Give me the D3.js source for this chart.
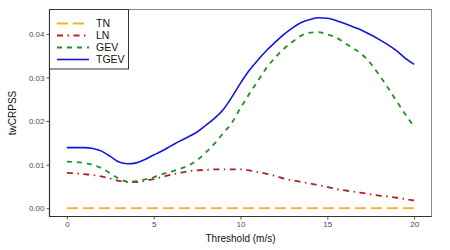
<!DOCTYPE html>
<html>
<head>
<meta charset="utf-8">
<script src="https://cdn.jsdelivr.net/npm/d3@7"></script>
<style>
  body { margin: 0; background: #fff; }
  svg { font-family: "Liberation Sans", Arial, sans-serif; }
</style>
</head>
<body>
<svg id="chart" width="450" height="250"></svg>
<script>
// thresholds (m/s)
const thresholds = d3.range(0, 20.01, 0.5);

// twCRPSS per model
const tn = thresholds.map(() => 0);
const ln = [0.0081, 0.0080, 0.0078, 0.0076, 0.0073, 0.0068, 0.0063, 0.0060, 0.0060, 0.0063,
  0.0067, 0.0072, 0.0077, 0.0081, 0.0085, 0.0087, 0.0088, 0.0089, 0.0089, 0.0089,
  0.0089, 0.0087, 0.0083, 0.0079, 0.0074, 0.0068, 0.0064, 0.0060, 0.0057, 0.0053,
  0.0049, 0.0044, 0.0041, 0.0038, 0.0035, 0.0032, 0.0029, 0.0027, 0.0024, 0.0021, 0.0018];
const gev = [0.0107, 0.0106, 0.0104, 0.0099, 0.0092, 0.0080, 0.0068, 0.0061, 0.0062, 0.0066,
  0.0071, 0.0078, 0.0084, 0.0090, 0.0098, 0.0110, 0.0128, 0.0148, 0.0172, 0.0196,
  0.0230, 0.0262, 0.0292, 0.0322, 0.0346, 0.0366, 0.0382, 0.0396, 0.0403, 0.0404,
  0.0399, 0.0392, 0.0379, 0.0367, 0.0353, 0.0332, 0.0305, 0.0276, 0.0245, 0.0215, 0.0187];
const tgev = [0.0139, 0.0139, 0.0139, 0.0137, 0.0131, 0.0119, 0.0106, 0.0102, 0.0104, 0.0112,
  0.0122, 0.0132, 0.0143, 0.0154, 0.0164, 0.0175, 0.0190, 0.0206, 0.0226, 0.0255,
  0.0287, 0.0316, 0.0340, 0.0362, 0.0381, 0.0399, 0.0414, 0.0426, 0.0433, 0.0437,
  0.0436, 0.0431, 0.0424, 0.0416, 0.0408, 0.0398, 0.0387, 0.0375, 0.0361, 0.0344, 0.0330];

const xTicks = [0, 5, 10, 15, 20];
const yTicks = [0, 0.01, 0.02, 0.03, 0.04];

const series = [
  { name: "TN", values: tn, color: "#f2b41a", dash: "11,5", width: 1.8 },
  { name: "LN", values: ln, color: "#b22222", dash: "6,4.5,1.5,4.5", width: 1.8 },
  { name: "GEV", values: gev, color: "#1a961a", dash: "5,5", width: 1.8 },
  { name: "TGEV", values: tgev, color: "#1414e0", dash: null, width: 1.6 },
];

const svg = d3.select("#chart");
const pLeft = 49.5, pRight = 431.5, pTop = 9.5, pBottom = 216.5;

const x = d3.scaleLinear().domain([-1, 21]).range([pLeft, pRight]);
const y = d3.scaleLinear().domain([-0.0019, 0.0456]).range([pBottom, pTop]);

// panel border (top/right lighter)
svg.append("rect")
  .attr("x", pLeft).attr("y", pTop)
  .attr("width", pRight - pLeft).attr("height", pBottom - pTop)
  .attr("fill", "none").attr("stroke", "#8a8a8a").attr("stroke-width", 1);

// axes
const xAxis = svg.append("g")
  .attr("transform", `translate(0,${pBottom})`)
  .call(d3.axisBottom(x).tickValues(xTicks).tickFormat(d3.format("d")).tickSize(3).tickPadding(2));
const yAxis = svg.append("g")
  .attr("transform", `translate(${pLeft},0)`)
  .call(d3.axisLeft(y).tickValues(yTicks).tickFormat(d3.format(".2f")).tickSize(3).tickPadding(2));

[xAxis, yAxis].forEach(g => {
  g.select(".domain").remove();
  g.selectAll(".tick line").attr("stroke", "#555");
  g.selectAll(".tick text").attr("fill", "#4d4d4d").style("font-size", "8px");
});

// dark left / bottom axis lines
svg.append("line").attr("x1", pLeft).attr("x2", pLeft).attr("y1", pTop).attr("y2", pBottom + 0.5)
  .attr("stroke", "#333").attr("stroke-width", 1.2);
svg.append("line").attr("x1", pLeft).attr("x2", pRight).attr("y1", pBottom).attr("y2", pBottom)
  .attr("stroke", "#333").attr("stroke-width", 1.2);

// lines
const line = d3.line()
  .x((d, i) => x(thresholds[i]))
  .y(d => y(d))
  .curve(d3.curveMonotoneX);

svg.append("g").selectAll("path")
  .data(series)
  .join("path")
  .attr("d", s => line(s.values))
  .attr("fill", "none")
  .attr("stroke", s => s.color)
  .attr("stroke-width", s => s.width)
  .attr("stroke-dasharray", s => s.dash);

// axis titles
svg.append("text")
  .attr("x", (pLeft + pRight) / 2).attr("y", 242)
  .attr("text-anchor", "middle")
  .style("font-size", "10px").attr("fill", "#111")
  .text("Threshold (m/s)");
svg.append("text")
  .attr("transform", `translate(16,${(pTop + pBottom) / 2}) rotate(-90)`)
  .attr("text-anchor", "middle")
  .style("font-size", "10px").attr("fill", "#111")
  .text("twCRPSS");

// legend
const legend = svg.append("g");
legend.append("rect")
  .attr("x", pLeft).attr("y", pTop).attr("width", 79).attr("height", 59.5)
  .attr("fill", "#fff").attr("stroke", "#333").attr("stroke-width", 1);
const rows = legend.selectAll("g.row")
  .data(series)
  .join("g")
  .attr("transform", (s, i) => `translate(0,${23.5 + i * 12})`);
rows.append("line")
  .attr("x1", 57).attr("x2", 89).attr("y1", 0).attr("y2", 0)
  .attr("stroke", s => s.color)
  .attr("stroke-width", s => s.width)
  .attr("stroke-dasharray", s => s.dash);
rows.append("text")
  .attr("x", 96).attr("y", 3.8)
  .style("font-size", "10.5px").attr("fill", "#111")
  .text(s => s.name);
</script>
</body>
</html>
